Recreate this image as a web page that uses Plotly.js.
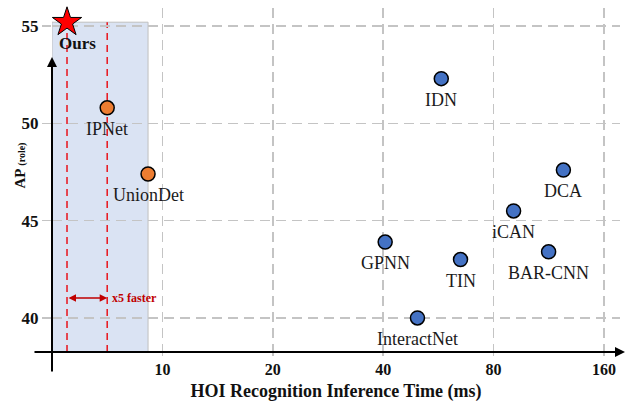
<!DOCTYPE html>
<html><head><meta charset="utf-8">
<script src="https://cdn.plot.ly/plotly-3.0.1.min.js"></script>
<style>html,body{margin:0;padding:0;background:#fff}#chart{width:628px;height:402px}</style>
</head><body><div id="chart"></div>
<script>
// ---- data (inference time in ms, AP role) ----
const oursName = ['Ours'];
const oursTime = [1.36];
const oursAP = [55.2];

const oneStageNames = ['IPNet', 'UnionDet'];
const oneStageTime = [5.0, 8.7];
const oneStageAP = [50.8, 47.4];

const twoStageNames = ['IDN', 'DCA', 'iCAN', 'GPNN', 'BAR-CNN', 'TIN', 'InteractNet'];
const twoStageTime = [57.6, 124, 90.7, 40.5, 113, 65, 49.6];
const twoStageAP = [52.3, 47.6, 45.5, 43.9, 43.4, 43.0, 40.0];

const xTickMs = [0, 10, 20, 40, 80, 160];
const xTickText = ['', '10', '20', '40', '80', '160'];
const yTickVals = [40, 45, 50, 55];
const speedupLabel = 'x5 faster';
const xTitle = 'HOI Recognition Inference Time (ms)';

// axis scale: linear 0-10 ms, log2 above 10 ms
function pos(t) { return t <= 10 ? t / 10 : 1 + Math.log2(t / 10); }

const serif = 'Liberation Serif, Times New Roman, serif';
const yRange = [38.25, 55.93];
const xRange = [0, 5.145];
const arrowY = 41.03;

const traces = [
  {
    type: 'scatter', mode: 'markers',
    x: twoStageTime.map(pos), y: twoStageAP, text: twoStageNames,
    marker: {size: 14, color: '#4472c4', line: {color: '#000', width: 1.5}},
    cliponaxis: false, hoverinfo: 'skip'
  },
  {
    type: 'scatter', mode: 'markers',
    x: oneStageTime.map(pos), y: oneStageAP, text: oneStageNames,
    marker: {size: 14, color: '#ed7d31', line: {color: '#000', width: 1.5}},
    cliponaxis: false, hoverinfo: 'skip'
  },
  {
    type: 'scatter', mode: 'markers',
    x: oursTime.map(pos), y: oursAP, text: oursName,
    marker: {symbol: 'star', size: 22, color: '#ff0000', line: {color: '#000', width: 1}},
    cliponaxis: false, hoverinfo: 'skip'
  }
];

function labelAnns(names, times, aps) {
  return names.map((n, i) => ({
    xref: 'x', yref: 'y', x: pos(times[i]), y: aps[i], yshift: -21,
    xanchor: 'center', yanchor: 'middle', showarrow: false, text: n,
    font: {family: serif, size: 18, color: '#1a1a1a'}
  }));
}

const gridStyle = {showgrid: true, gridcolor: '#c4c4c4', gridwidth: 1.5, griddash: '10px,6px'};

const layout = {
  width: 628, height: 402,
  margin: {l: 52, r: 8, t: 8, b: 50},
  paper_bgcolor: '#fff', plot_bgcolor: '#fff',
  showlegend: false,
  xaxis: Object.assign({
    range: xRange, tickmode: 'array',
    tickvals: xTickMs.map(pos), ticktext: xTickText,
    ticks: 'outside', ticklen: 3, tickcolor: '#c4c4c4', tickwidth: 1.5,
    tickfont: {family: serif, size: 16, color: '#111', weight: 'bold'},
    zeroline: false, showline: false,
    title: {text: xTitle, standoff: 8, font: {family: serif, size: 18, color: '#111', weight: 'bold'}}
  }, gridStyle),
  yaxis: Object.assign({
    range: yRange, tickmode: 'array', tickvals: yTickVals,
    ticks: 'outside', ticklen: 9, tickcolor: '#c4c4c4', tickwidth: 1.5,
    tickfont: {family: serif, size: 17, color: '#111', weight: 'bold'},
    zeroline: false, showline: false
  }, gridStyle),
  shapes: [
    {type: 'rect', xref: 'x', yref: 'y', layer: 'below',
     x0: 0, x1: pos(oneStageTime[1]), y0: yRange[0], y1: oursAP[0],
     fillcolor: '#dae3f3', line: {color: '#bfbfbf', width: 1}},
    {type: 'line', xref: 'x', yref: 'y', layer: 'below',
     x0: pos(oursTime[0]), x1: pos(oursTime[0]), y0: yRange[0], y1: oursAP[0],
     line: {color: '#e8141b', width: 1.5, dash: '7px,5px'}},
    {type: 'line', xref: 'x', yref: 'y', layer: 'below',
     x0: pos(oneStageTime[0]), x1: pos(oneStageTime[0]), y0: yRange[0], y1: oursAP[0],
     line: {color: '#e8141b', width: 1.5, dash: '7px,5px'}}
  ],
  annotations: [
    // x axis line with arrow
    {xref: 'paper', yref: 'paper', x: 1.0088, y: 0, ax: -592, ay: 0,
     showarrow: true, arrowhead: 2, arrowsize: 1, arrowwidth: 2, arrowcolor: '#000', text: ''},
    // y axis line with arrow
    {xref: 'paper', yref: 'paper', x: 0, y: 0.8576, ax: 0, ay: 316,
     showarrow: true, arrowhead: 2, arrowsize: 1, arrowwidth: 2, arrowcolor: '#000', text: ''},
    // double arrow x5 faster
    {xref: 'x', yref: 'y', axref: 'x', ayref: 'y',
     x: pos(oneStageTime[0]), y: arrowY, ax: pos(oursTime[0]), ay: arrowY,
     showarrow: true, arrowside: 'end+start', arrowhead: 2, arrowsize: 1, arrowwidth: 1.5,
     arrowcolor: '#c00000', text: ''},
    {xref: 'x', yref: 'y', x: pos(oneStageTime[0]), y: arrowY, xanchor: 'left', yanchor: 'middle',
     xshift: 3, showarrow: false, text: speedupLabel,
     font: {family: serif, size: 12, color: '#c00000', weight: 'bold'}},
    // Ours label
    {xref: 'x', yref: 'y', x: pos(oursTime[0]), y: oursAP[0], xshift: 10, yshift: -21,
     showarrow: false, text: oursName[0],
     font: {family: serif, size: 17, color: '#111', weight: 'bold'}},
    // y axis title
    {xref: 'paper', yref: 'paper', x: -0.058, y: 0.542, textangle: -90, showarrow: false,
     xanchor: 'center', yanchor: 'middle',
     text: 'AP <span style="font-size:10px">(role)</span>',
     font: {family: serif, size: 15, color: '#111', weight: 'bold'}}
  ].concat(
    labelAnns(twoStageNames, twoStageTime, twoStageAP),
    labelAnns(oneStageNames, oneStageTime, oneStageAP)
  )
};

Plotly.newPlot('chart', traces, layout, {staticPlot: true, displayModeBar: false});
</script>
</body></html>
